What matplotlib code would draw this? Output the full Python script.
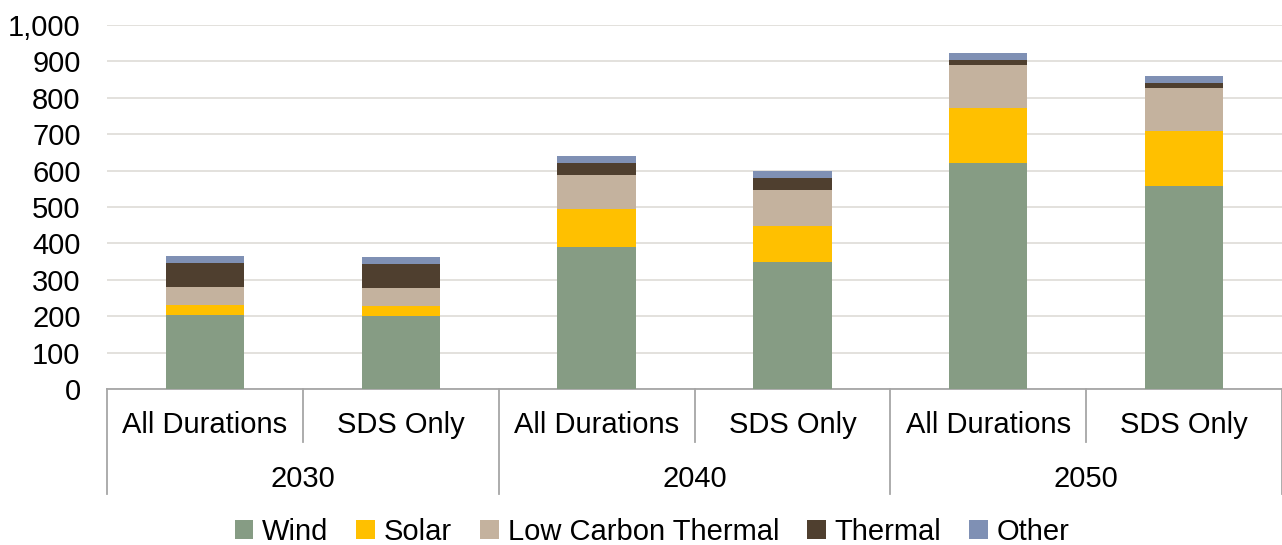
import matplotlib
matplotlib.use("Agg")
import matplotlib.pyplot as plt
from matplotlib.patches import Patch
import numpy as np

plt.rcParams['font.family'] = ['Liberation Sans', 'DejaVu Sans']

years = ["2030", "2040", "2050"]
scenarios = ["All Durations", "SDS Only"]
series = ["Wind", "Solar", "Low Carbon Thermal", "Thermal", "Other"]
wind = [204, 201, 391, 349, 622, 559]
solar = [27, 27, 103, 98, 151, 150]
low_carbon_thermal = [49, 49, 93, 101, 117, 119]
thermal = [67, 67, 35, 33, 15, 14]
other = [18, 19, 18, 18, 17, 18]
yticks = [0, 100, 200, 300, 400, 500, 600, 700, 800, 900, 1000]

colors = ["#869C84", "#FFC000", "#C4B29E", "#4F3F2F", "#7F90B4"]
data = [wind, solar, low_carbon_thermal, thermal, other]

FS = 21
W, H = 1282, 545
fig = plt.figure(figsize=(W / 100, H / 100), dpi=100)
ax_left, ax_right, ax_top, ax_bot = 107, 1282, 25, 389
ax = fig.add_axes([ax_left / W, 1 - ax_bot / H, (ax_right - ax_left) / W, (ax_bot - ax_top) / H])

n = len(wind)
x = np.arange(n)
bottom = np.zeros(n)
for vals, c, name in zip(data, colors, series):
    ax.bar(x, vals, width=0.4, bottom=bottom, color=c, label=name, zorder=3,
           edgecolor="none")
    bottom += np.array(vals)

ax.set_xlim(-0.5, n - 0.5)
ax.set_ylim(0, 1000)
ax.set_yticks(yticks)
ax.set_yticklabels([f"{v:,}" for v in yticks], fontsize=FS)
ax.tick_params(axis='y', length=0, pad=19)
ax.tick_params(axis='x', length=0)
ax.set_xticks([])
ax.yaxis.grid(True, color="#E0DEDA", linewidth=1.3, zorder=0)
for s in ["top", "right", "left"]:
    ax.spines[s].set_visible(False)
ax.spines["bottom"].set_color("#A6A6A6")
ax.spines["bottom"].set_linewidth(1.3)

# multi-level category axis
def ypix(p):
    return (ax_bot - p) / (ax_bot - ax_top)

trans = ax.get_xaxis_transform()
line_kw = dict(color="#A6A6A6", linewidth=1.3, transform=trans, clip_on=False)
for i in range(n):
    ax.text(i, ypix(425), scenarios[i % 2], ha="center", va="center",
            fontsize=FS, transform=trans)
for g in range(len(years)):
    ax.text(2 * g + 0.5, ypix(479), years[g], ha="center", va="center",
            fontsize=FS, transform=trans)
    ax.plot([2 * g + 0.5, 2 * g + 0.5], [0, ypix(442)], **line_kw)
for b in range(len(years) + 1):
    xb = 2 * b - 0.5
    ax.plot([xb, xb], [0, ypix(494)], **line_kw)

handles = [Patch(facecolor=c, edgecolor="none", label=s) for c, s in zip(colors, series)]
fig.legend(handles=handles, loc="center", bbox_to_anchor=(652 / W, 1 - 532 / H),
           ncol=5, frameon=False, fontsize=FS, handlelength=0.65, handleheight=0.65,
           handletextpad=0.3, columnspacing=0.95, borderaxespad=0)

fig.savefig("out.png", dpi=100)
